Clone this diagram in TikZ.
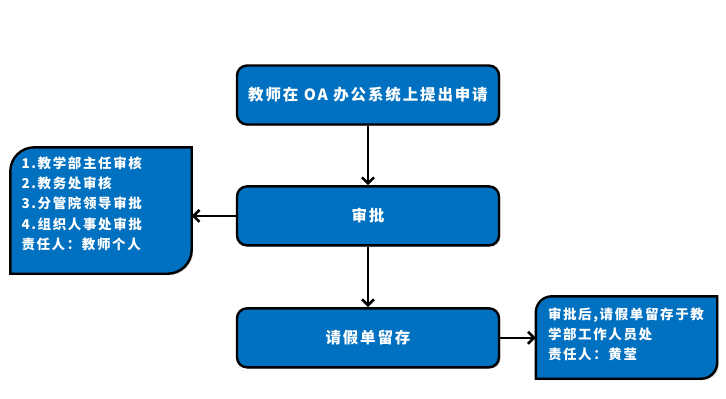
\documentclass[tikz,border=0pt]{standalone}
\usepackage{fontspec}
\setmainfont{Noto Sans CJK SC}[LetterSpace=12]
\usepackage{xcolor}
\usetikzlibrary{arrows.meta,positioning,backgrounds,shadows}
\definecolor{boxblue}{RGB}{0,112,192}

\begin{document}
\begin{tikzpicture}[x=1pt,y=1pt,
  box/.style={draw=black,line width=2.4pt,fill=boxblue,rounded corners=10pt,minimum width=262pt,minimum height=59pt,text=white,font=\fontsize{15.5}{18}\selectfont\bfseries,drop shadow={shadow xshift=1.5pt,shadow yshift=-1.5pt,fill=black!35}},
  note/.style={inner sep=0pt,minimum width=181pt},
  leaf/.style={draw=black,line width=2.4pt,fill=boxblue,drop shadow={shadow xshift=1.5pt,shadow yshift=-1.5pt,fill=black!35}},
  notetext/.style={text=white,align=left,anchor=north west,inner sep=0pt,font=\fontsize{13.5}{20.3}\selectfont\bfseries},
  arr/.style={line width=2.6pt,-{Straight Barb[length=6pt,width=12pt]}}]
\useasboundingbox (0,0) rectangle (726,-399);
\node[box] (apply) at (368,-95) {教师在 OA 办公系统上提出申请};
\node[box,below=59.5pt of apply] (check) {审批};
\node[box,below=60.5pt of check] (keep) {请假单留存};
\node[note,minimum height=126pt] (duty) at (101,-210.5) {};
\node[note,minimum height=82pt] (stamp) at (626.5,-337.5) {};
% side boxes: two round corners on the diagonal
\begin{scope}[on background layer]
\foreach \n/\r in {duty/24,stamp/16} {
  \draw[leaf] (\n.south west) -- ([yshift=-\r]\n.north west) arc[start angle=180,end angle=90,radius=\r]
    -- (\n.north east) -- ([yshift=\r]\n.south east) arc[start angle=0,end angle=-90,radius=\r] -- cycle;
}
\end{scope}
\node[notetext] (dutylist) at ([xshift=11pt,yshift=-9pt]duty.north west)
  {1.教学部主任审核\\2.教务处审核\\3.分管院领导审批\\4.组织人事处审批\\责任人：教师个人};
\node[notetext] (stamplist) at ([xshift=12pt,yshift=-11pt]stamp.north west)
  {审批后,请假单留存于教\\学部工作人员处\\责任人：黄莹};
\draw[arr] (apply) -- (check);
\draw[arr] (check) -- (keep);
\draw[arr] (check.west) -- (check.west -| duty.east);
\draw[arr] (keep.east) -- (keep.east -| stamp.west);
\end{tikzpicture}
\end{document}
